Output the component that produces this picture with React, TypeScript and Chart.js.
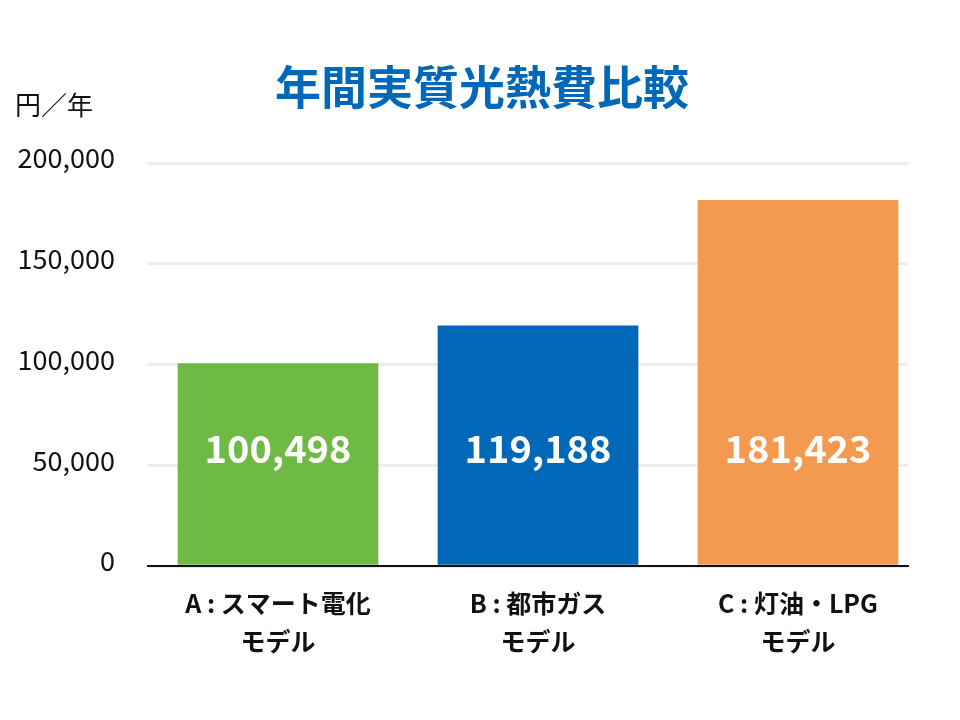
import React, { useEffect, useRef } from "react";
import { Chart, registerables } from "chart.js";

Chart.register(...registerables);

const titleText = "年間実質光熱費比較";
const unitText = "円／年";
const categories: string[][] = [
  ["A : スマート電化", "モデル"],
  ["B : 都市ガス", "モデル"],
  ["C : 灯油・LPG", "モデル"],
];
const values = [100498, 119188, 181423];
const barColors = ["#6FBA44", "#0068B7", "#F39A50"];
const yTicks = [0, 50000, 100000, 150000, 200000];

const FONT = "'Noto Sans CJK JP', 'Noto Sans', sans-serif";

const labelPlugin = {
  id: "barLabels",
  afterDatasetsDraw(chart: any) {
    const ctx = chart.ctx;
    const meta = chart.getDatasetMeta(0);
    const area = chart.chartArea;
    ctx.save();
    ctx.fillStyle = "#ffffff";
    ctx.font = `bold 38px ${FONT}`;
    ctx.textAlign = "center";
    ctx.textBaseline = "middle";
    meta.data.forEach((bar: any, i: number) => {
      ctx.fillText(values[i].toLocaleString("en-US"), bar.x, area.bottom - 117);
    });
    // title
    ctx.fillStyle = "#0068B7";
    ctx.font = `bold 46px ${FONT}`;
    ctx.textAlign = "center";
    ctx.fillText(titleText, 482, area.top - 76);
    // unit label
    ctx.fillStyle = "#111111";
    ctx.font = `26px ${FONT}`;
    ctx.textAlign = "left";
    ctx.fillText(unitText, 15, area.top - 58);
    ctx.restore();
  },
};

export default function App() {
  const ref = useRef<HTMLCanvasElement | null>(null);
  useEffect(() => {
    if (!ref.current) return;
    const chart = new Chart(ref.current, {
      type: "bar",
      data: {
        datasets: [
          {
            data: values.map((v, i) => ({ x: i, y: v })),
            backgroundColor: barColors,
            barThickness: 200,
            borderWidth: 0,
          },
        ],
      },
      options: {
        animation: false,
        responsive: false,
        maintainAspectRatio: false,
        layout: { padding: { left: 0, right: 52, top: 163, bottom: 42 } },
        plugins: {
          legend: { display: false },
          tooltip: { enabled: false },
          title: { display: false },
        },
        scales: {
          x: {
            type: "linear",
            offset: false,
            min: -0.5,
            max: -0.5 + 760 / 260,
            afterBuildTicks: (scale: any) => {
              scale.ticks = categories.map((_, i) => ({ value: i }));
            },
            grid: { display: false, drawTicks: false, offset: false },
            border: { display: true, color: "#111111", width: 2 },
            ticks: {
              padding: 18,
              color: "#111111",
              font: { family: FONT, size: 25, weight: "bold", lineHeight: 1.52 },
              callback: (v: any) => categories[v as number] ?? "",
              maxRotation: 0,
              autoSkip: false,
            },
          },
          y: {
            min: 0,
            max: 200000,
            afterBuildTicks: (scale: any) => {
              scale.ticks = yTicks.map((v) => ({ value: v }));
            },
            afterFit: (scale: any) => {
              scale.width = 148;
            },
            grid: { color: "#EDEDED", lineWidth: 3, drawTicks: false },
            border: { display: false },
            ticks: {
              padding: 33,
              labelOffset: -5,
              color: "#111111",
              font: { family: FONT, size: 27 },
              callback: (v: any) => Number(v).toLocaleString("en-US"),
            },
          },
        },
      },
      plugins: [labelPlugin],
    } as any);
    return () => chart.destroy();
  }, []);
  return (
    <div style={{ position: "fixed", left: 0, top: 0, width: 960, height: 720, background: "#fff" }}>
      <canvas ref={ref} width={960} height={720} style={{ display: "block" }} />
    </div>
  );
}
